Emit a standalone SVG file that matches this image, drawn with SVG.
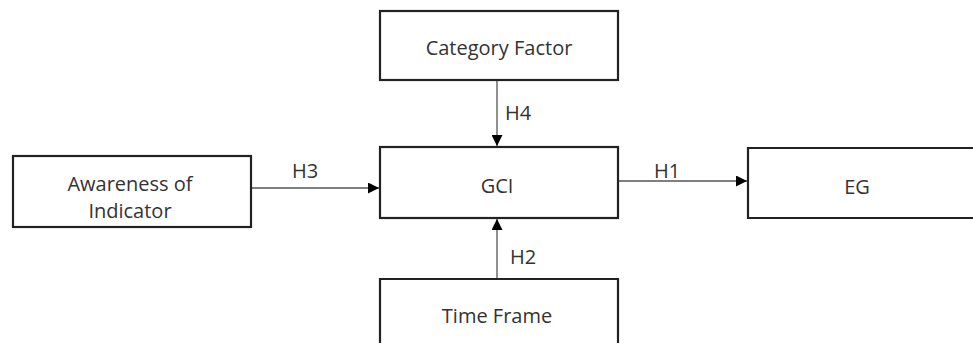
<svg xmlns="http://www.w3.org/2000/svg" width="973" height="347" viewBox="0 0 973 347">
<defs>
<marker id="arr" viewBox="0 0 10 10" refX="10" refY="5" markerWidth="11" markerHeight="11" markerUnits="userSpaceOnUse" orient="auto">
<path d="M0,0 L10,5 L0,10 z" fill="#000"/>
</marker>
<style>
.box{fill:#fff;stroke:#222;stroke-width:2.2}
.lbl{font-family:"Open Sans","Noto Sans",sans-serif;font-size:20px;fill:#333;text-anchor:middle;dominant-baseline:central}
.edge{stroke:#555;stroke-width:1.3;fill:none;marker-end:url(#arr)}
</style>
</defs>
<rect width="973" height="347" fill="#fff"/>
<g id="connectors">
<line class="edge" x1="497" y1="80" x2="497" y2="146"/>
<line class="edge" x1="251" y1="188" x2="379" y2="188"/>
<line class="edge" x1="618" y1="181" x2="747" y2="181"/>
<line class="edge" x1="497" y1="279" x2="497" y2="219"/>
<text class="lbl" x="518" y="112">H4</text>
<text class="lbl" x="305" y="170">H3</text>
<text class="lbl" x="667" y="170">H1</text>
<text class="lbl" x="523" y="256">H2</text>
</g>
<g id="category">
<rect class="box" x="380" y="11" width="238" height="69"/>
<text class="lbl" x="499" y="47">Category Factor</text>
</g>
<g id="awareness">
<rect class="box" x="13" y="156" width="238" height="71"/>
<text class="lbl" x="130" y="183">Awareness of</text>
<text class="lbl" x="130" y="210">Indicator</text>
</g>
<g id="gci">
<rect class="box" x="380" y="147" width="238" height="71"/>
<text class="lbl" x="497" y="185">GCI</text>
</g>
<g id="eg">
<path class="box" d="M980,148 H748 V218 H980"/>
<text class="lbl" x="857" y="186">EG</text>
</g>
<g id="timeframe">
<path class="box" d="M380,343 V279 H618 V343"/>
<text class="lbl" x="497" y="315">Time Frame</text>
</g>
</svg>
